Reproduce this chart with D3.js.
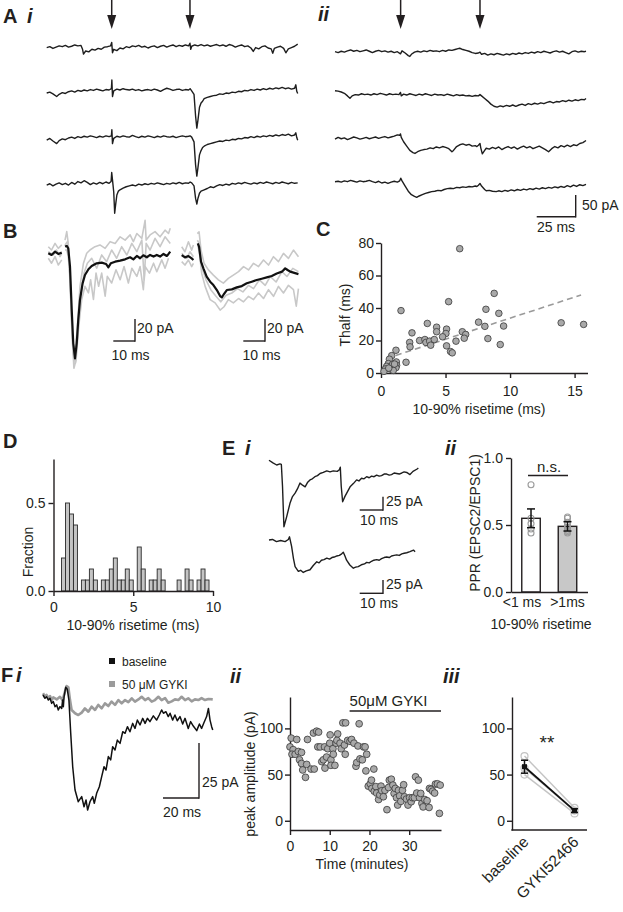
<!DOCTYPE html>
<html><head><meta charset="utf-8">
<script src="https://cdn.jsdelivr.net/npm/d3@7"></script>
<style>body{margin:0;background:#fff}</style>
</head><body>
<svg id="fig" width="623" height="912" xmlns="http://www.w3.org/2000/svg"></svg>
<script>
// ---------------- DATA ----------------
// Panel A: traces [ms, pA]
const stimAi = [41.7, 91.9];
const stimAii = [42.1, 93.0];
const traceAi1 = [[0,-2],[2,0],[4,-4],[6,-1],[8,2],[10,0],[12,3],[14,-1],[16,1],[18,4],[20,2],[22,3],[23,-6],[23.6,-17],[25,-10],[27,-12],[29,-6],[31,-8],[33,-4],[35,-6],[37,-1],[39,0],[41,2],[41.7,10],[42.2,-14],[43,-6],[45,-9],[47,-3],[49,-5],[51,0],[53,-2],[55,2],[57,0],[59,3],[61,-1],[63,1],[65,-3],[67,0],[69,2],[71,-2],[73,1],[75,3],[77,-1],[79,2],[81,4],[83,0],[85,3],[87,1],[89,4],[91,2],[91.9,8],[92.4,-6],[93,1],[95,4],[97,2],[99,5],[101,2],[103,4],[105,1],[107,3],[109,5],[111,2],[113,4],[115,1],[117,5],[119,3],[121,-1],[123,2],[125,4],[127,0],[129,2],[131,-3],[132.5,-11],[134,-2],[136,-5],[138,0],[140,2],[142,-3],[144,-5],[145,-15],[146,-4],[148,-1],[150,1],[152,-4],[153.4,-14],[155,-5],[157,-2],[159,1],[161,6]];
const traceAi2 = [[0,-7],[2,-5],[4,-9],[6.4,-15],[8,-10],[10,-6],[12,-8],[14,-4],[16,-2],[18,-5],[20,-1],[22,-3],[24,0],[26,-2],[28,1],[30,-1],[32,2],[34,0],[36,-2],[38,1],[40,0],[41.5,3],[41.8,23],[42.2,-15],[43,-2],[45,2],[47,0],[49,3],[51,1],[53,0],[55,2],[57,-1],[59,1],[61,-2],[63,0],[65,1],[67,-1],[69,2],[71,0],[73,-3],[75,1],[77,4],[79,2],[81,-1],[83,1],[85,2],[87,-1],[89,1],[91,0],[92,3],[93,-2],[94.5,-10],[95.5,-60],[96.3,-88],[97,-70],[98,-40],[99,-30],[100,-26],[101,-20],[103,-17],[105,-15],[107,-13],[109,-12],[111,-9],[113,-10],[115,-7],[117,-8],[119,-5],[121,-6],[123,-3],[125,-4],[127,-1],[129,-2],[131,1],[133,-1],[135,2],[137,0],[139,3],[141,1],[143,4],[145,2],[147,5],[149,3],[151,6],[153,3],[155,5],[157,2],[159,4],[159.8,12],[160.4,-3],[161,-8]];
const traceAi3 = [[0,-8],[2,-4],[4,-10],[6.4,-16],[8,-9],[10,-5],[12,-7],[14,-3],[16,-1],[18,-4],[20,0],[22,-2],[24,1],[26,-1],[28,2],[30,0],[32,-2],[34,1],[36,-1],[38,2],[40,0],[41.5,2],[41.8,16],[42.2,-16],[43,-4],[45,1],[47,-1],[49,2],[51,0],[53,-1],[55,3],[57,0],[59,-2],[61,1],[63,-1],[65,2],[67,0],[69,-2],[71,1],[73,-1],[75,2],[77,0],[79,-1],[81,1],[83,-2],[85,0],[87,2],[89,0],[91,1],[92,2],[93,-1],[94.5,-12],[95.5,-65],[96.3,-91],[97,-72],[98,-42],[99,-32],[100,-25],[101,-22],[103,-18],[105,-16],[107,-14],[109,-12],[111,-10],[113,-11],[115,-8],[117,-9],[119,-6],[121,-7],[123,-4],[125,-5],[127,-2],[129,-3],[131,0],[133,-2],[135,1],[137,-1],[139,2],[141,0],[143,3],[145,1],[147,4],[149,2],[151,5],[153,3],[155,6],[157,2],[159,4],[159.8,9],[160.4,-2],[161,-8]];
const traceAi4 = [[0,-4],[2,-1],[4,-6],[6,-2],[8,1],[10,-3],[12,0],[14,-4],[16,2],[18,-2],[20,4],[22,1],[24,6],[26,2],[28,-3],[30,1],[32,-2],[34,2],[36,-1],[38,3],[40,0],[41.3,4],[41.7,25],[42.2,8],[43,-20],[43.6,-69],[44.2,-50],[45,-27],[46,-18],[47,-15],[49,-11],[51,-8],[53,-6],[55,-4],[57,-6],[59,-2],[61,-4],[63,-1],[65,-3],[67,0],[69,-2],[71,1],[73,-1],[75,-3],[77,0],[79,-2],[81,1],[83,-1],[85,2],[87,-1],[89,1],[91,0],[92,3],[93,1],[94.5,-6],[95.5,-35],[96.3,-48],[97,-35],[98,-23],[99,-18],[101,-15],[103,-12],[105,-8],[107,-10],[109,-6],[111,-3],[113,-5],[115,-2],[117,-4],[119,0],[121,-2],[123,1],[125,-1],[127,2],[129,0],[131,-2],[133,1],[135,-1],[137,2],[139,0],[141,3],[143,1],[145,-1],[147,2],[149,0],[151,3],[153,1],[155,-1],[157,2],[159,0],[161,1]];
const traceAii1 = [[0,0],[2,-2],[4,1],[6,-1],[8,2],[10,4],[12,1],[14,3],[16,0],[18,2],[20,4],[22,1],[24,-2],[26,1],[28,3],[30,0],[32,2],[34,-1],[36,1],[38,-2],[40,0],[42,-5],[43,2],[45,-3],[47,-9],[48,-11],[49,-6],[51,-1],[53,1],[55,-1],[57,2],[59,0],[61,3],[63,1],[65,2],[67,0],[69,3],[71,1],[73,4],[75,3],[77,5],[79,7],[80,8],[82,5],[84,3],[86,1],[88,-2],[90,-4],[92,-3],[93,-1],[94,-6],[96,-4],[98,-8],[100,-5],[102,-7],[104,-4],[106,-6],[108,-8],[110,-5],[112,-7],[114,-4],[116,-6],[118,-3],[120,-5],[122,-2],[124,-4],[126,-1],[128,-3],[130,0],[132,-2],[134,1],[136,-1],[138,-3],[140,0],[142,2],[144,-1],[146,1],[148,-2],[150,-5],[152,0],[154,2],[156,-1],[158,1],[160,0],[161,1]];
const traceAii2 = [[0,6],[2,5],[4,3],[6,0],[8,-6],[9.6,-11.5],[11,-6],[13,-3],[15,-4],[17,-1],[19,-3],[21,-2],[23,-4],[25,-1],[27,-3],[29,0],[31,-2],[33,-4],[35,-1],[37,-3],[39,-2],[41,-3],[42,2],[42.5,-6],[44,-2],[46,-4],[48,-1],[50,-3],[52,-5],[54,-2],[56,-4],[58,-1],[60,-3],[62,-5],[64,-2],[66,-4],[68,-3],[70,-5],[72,-2],[74,-4],[76,-6],[78,-3],[80,-5],[82,-4],[84,-6],[86,-5],[88,-7],[90,-5],[92,-6],[93,-3],[94,-6],[96,-12],[98,-18],[100,-25],[102,-30],[104,-32],[106,-29],[108,-31],[110,-28],[112,-30],[114,-27],[116,-30],[118,-27],[120,-25],[122,-28],[124,-24],[126,-26],[128,-23],[130,-25],[132,-22],[134,-24],[136,-21],[138,-19],[140,-22],[142,-19],[144,-20],[146,-17],[148,-19],[150,-16],[152,-18],[154,-15],[156,-17],[158,-14],[160,-15],[161,-12]];
const traceAii3 = [[0,-2],[2,2],[4,-1],[6,1],[8,-3],[10,0],[12,3],[14,1],[16,-2],[18,0],[20,2],[22,-1],[24,1],[26,3],[28,0],[30,2],[32,4],[34,1],[36,3],[38,5],[40,8],[41.5,7],[42,10],[42.5,2],[44,-8],[46,-18],[48,-28],[50,-33],[51.3,-35],[53,-31],[55,-28],[57,-26],[59,-25],[61,-22],[63,-24],[65,-20],[67,-22],[69,-19],[71,-21],[73,-24],[75,-31],[76,-28],[78,-19],[80,-15],[82,-13],[84,-16],[86,-14],[88,-18],[90,-17],[91,-19],[92,-16],[93,-12],[93.5,-22],[94.5,-36],[96,-28],[97,-23],[99,-25],[101,-21],[103,-24],[105,-20],[107,-26],[109,-22],[111,-19],[113,-23],[115,-20],[117,-25],[119,-21],[121,-18],[123,-22],[125,-19],[127,-24],[129,-21],[131,-18],[133,-22],[135,-26],[137,-31],[139,-24],[141,-19],[143,-22],[145,-17],[147,-20],[149,-16],[151,-19],[153,-15],[155,-17],[157,-12],[159,-10],[161,-5]];
const traceAii4 = [[0,0],[2,1],[4,-1],[6,2],[8,0],[10,3],[12,1],[14,-1],[16,2],[18,0],[20,1],[22,3],[24,0],[26,-2],[28,1],[30,-3],[32,-1],[34,-4],[36,-1],[38,1],[40,-1],[41.5,2],[42.2,8],[43,2],[45,-10],[47,-22],[49,-30],[51,-34],[52.4,-36],[54,-33],[56,-30],[58,-27],[60,-25],[62,-23],[64,-22],[66,-20],[68,-21],[70,-18],[72,-16],[74,-15],[76,-16],[78,-13],[80,-14],[82,-12],[84,-13],[86,-11],[88,-12],[90,-10],[91,-11],[92,-8],[93,-4],[94,-10],[96,-18],[97,-21],[99,-20],[101,-22],[103.4,-23],[105,-21],[107,-23],[109,-20],[111,-22],[113,-19],[115,-21],[117,-18],[119,-20],[121,-17],[123,-19],[125,-16],[127,-18],[129,-15],[131,-17],[133,-14],[135,-16],[137,-13],[139,-15],[141,-12],[143,-14],[145,-11],[147,-13],[149,-9],[151,-12],[153,-8],[155,-11],[157,-7],[159,-9],[161,-6]];

// Panel B: averaged (black) and individual (gray) EPSCs [ms, pA]; null = gap
const bLeftMean = [[0,0],[1.5,-1.5],[3.1,1.5],[4.6,-0.6],[6.2,0.6],[6.9,null],[7.7,6.1],[8.5,6.7],[9.2,4.5],[10,-12.1],[10.8,-51.5],[11.5,-81.8],[12.3,-95.5],[13.1,-81.8],[13.8,-60.6],[14.6,-42.4],[15.8,-27.3],[16.9,-19.7],[18.5,-14.5],[20,-11.5],[22.3,-9.1],[24.6,-8.5],[26.6,-9.7],[27.7,-12.7],[28.8,-9.1],[30.8,-7.6],[33.1,-6.7],[35.4,-5.5],[37.7,-3.6],[39.2,-5.5],[40.8,-2.4],[42.3,-4.5],[43.8,-1.8],[45.4,-3.6],[46.9,-1.5],[48.5,-3],[50,-1.5],[51.5,-3],[53.1,-0.6],[54.6,-2.4],[55.4,-0.6],[56.2,1.5]];
const bLeftSingles = [
 [[0,6],[1.5,3],[3.1,9],[4.6,4.5],[6.2,7.6],[6.9,null],[7.7,12],[8.5,19.7],[9.2,9],[10,-27],[11.2,-79],[12.3,-91],[13.4,-67],[14.6,-30],[16.2,-9],[17.7,0],[19.2,3],[21.5,6],[23.8,7.6],[26.2,4.5],[28.5,10.6],[30.8,9],[33.1,15],[35.4,12],[37.7,16.7],[39.2,10.6],[40.8,18],[43.1,13.6],[44.6,30],[45.1,12],[46.9,16.7],[49.2,19.7],[51.5,15],[53.8,21],[55.4,18],[56.2,22.7]],
 [[0,-4.5],[1.5,-9],[3.1,-3],[4.6,-10.6],[6.2,-6],[6.9,null],[7.7,3],[8.5,3],[9.2,-3],[10,-21],[10.8,-67],[11.8,-104.5],[12.8,-97],[14,-67],[15.4,-42],[16.9,-30],[18.5,-36],[19.5,-24],[20.8,-42],[22,-18],[23.2,-30],[24.6,-18],[26.2,-39],[27.2,-21],[29.2,-27],[31.2,-15],[33.1,-24],[34.9,-12],[36.9,-27],[38.5,-13.6],[40.8,-21],[42.3,-12],[43.8,-33],[44.6,-12],[46.6,-18],[48.5,-9],[50,-16.7],[52.3,-6],[53.8,-13.6],[55.4,-4.5]],
 [[0,1.5],[2.3,-1.5],[3.8,3],[5.4,-3],[6.2,0],[6.9,null],[7.7,7.6],[8.8,10.6],[9.5,0],[10.3,-36],[11.4,-91],[12.5,-100],[13.5,-76],[14.9,-39],[16.5,-18],[18,-9],[20,-4.5],[22.3,-13.6],[24.6,-1.5],[26.9,-7.6],[29.2,3],[31.5,-4.5],[33.8,6],[36.2,-1.5],[38.5,9],[40.8,1.5],[43.1,12],[44.2,-24],[45.1,9],[46.9,3],[49.2,13.6],[51.5,6],[53.8,15],[56.2,9]]
];
const bRightMean = [[0,1.5],[1.5,-0.6],[3.1,0.6],[4.6,-1.5],[5.4,-3],[6.3,null],[7.4,12.1],[8,9.1],[8.9,-4.5],[10,-10.6],[11.5,-18.2],[13.1,-22.7],[14.6,-25.8],[16.2,-30.3],[17.7,-35.8],[18.5,-37],[19.2,-34.8],[20.8,-30.3],[23.1,-29.7],[25.4,-27.9],[27.7,-26.7],[30,-24.2],[32.3,-22.7],[34.6,-21.2],[36.9,-20],[39.2,-18.8],[41.5,-17.6],[43.8,-15.2],[46.2,-13.6],[47.7,-10.6],[48.8,-12.1],[50,-13.6],[51.5,-14.5],[53.8,-15.8]];
const bRightSingles = [
 [[0,9],[1.5,4.5],[3.1,13.6],[4.6,6],[5.4,10.6],[6.3,null],[7.2,21],[8,22.7],[8.9,6],[10.3,-6],[12.3,-12],[14.6,-16.7],[16.9,-21],[19.2,-24],[21.5,-19.7],[23.8,-16.7],[26.2,-13.6],[28.5,-9],[30.8,-12],[33.1,-6],[35.4,-9],[37.7,-3],[40,-7.6],[42.3,0],[44.6,-4.5],[46.9,3],[49.2,-1.5],[51.5,6],[53.8,0]],
 [[0,-4.5],[1.5,-7.6],[3.1,-3],[4.6,-9],[5.4,-6],[6.3,null],[7.4,10.6],[8.2,3],[9.2,-15],[10.8,-27],[13.1,-39],[15.4,-42],[17.7,-48.5],[19.5,-45.5],[21.5,-39],[23.8,-42],[26.2,-38],[28.5,-41],[30.8,-36],[33.1,-39],[35.4,-33],[37.7,-38],[40,-30],[42.3,-36],[44.6,-27],[46.9,-33],[49.2,-26],[51.5,-30],[52.8,-45],[53.8,-29]],
 [[0,3],[2.3,-1.5],[3.8,4.5],[5.4,0],[6.3,null],[7.2,15],[8.2,12],[9.2,-9],[11.2,-21],[13.4,-30],[15.8,-36],[18,-41],[20.5,-35],[23.1,-33],[25.7,-29],[28.2,-32],[30.8,-26],[33.1,-29],[35.8,-21],[38.5,-26],[40.8,-18],[43.5,-23],[46.2,-13.6],[48.5,-18],[51.2,-10.6],[53.8,-13.6]]
];

// Panel C: 10-90% risetime (ms) vs Thalf (ms)
const riseTimeC = [1.55,5.24,8.77,8.13,9.13,7.56,9.5,8.05,8.28,9.24,13.96,15.7,3.59,4.31,4.31,5.08,5.03,4.77,6.3,6.56,6.45,5.81,5.08,5.39,5.52,2.4,2.22,2.25,2.99,3.4,3.48,3.77,3.85,4.13,1.94,1.16,0.83,0.65,1.19,1.21,1.16,0.57,0.44,0.34,0.7,0.8,0.9,0.23,0.95,6.1,1.05,0.6];
const thalfC = [38.4,43.9,49,39.2,36.7,31.3,28.9,28.7,21.2,17.5,30.9,29.9,30.5,28.2,25.4,27,24.3,22.3,25.4,23.7,21.4,19.6,16.7,13.2,12.4,24.7,18.8,16.1,20,20.6,18.8,19.6,17.1,20.6,6.6,14,10.7,8.5,6.8,4.7,3.3,5.8,4.1,2.5,2.5,3.9,5.4,1,1.6,76.5,5.5,3];
const fitLineX = [1.15, 15.5];
const fitLineY = [10.8, 48];

// Panel D: histogram of 10-90% risetime
const binStart = [0.5,0.75,1,1.25,1.5,1.75,2,2.25,2.5,2.75,3,3.25,3.5,3.75,4,4.25,4.5,4.75,5,5.25,5.5,5.75,6,6.25,6.5,6.75,7,7.25,7.5,7.75,8,8.25,8.5,8.75,9,9.25,9.5];
const binFraction = [0.1875,0.5,0.4375,0.375,0,0.0625,0.0625,0.125,0.0625,0,0.0625,0.0625,0.125,0.1875,0.0625,0.0625,0.125,0.0625,0,0.25,0.125,0,0.0625,0.0625,0.125,0.0625,0,0,0,0.0625,0,0.125,0.0625,0,0.0625,0.125,0.0625];
const binWidth = 0.25;

// Panel E i: paired-pulse EPSCs [ms, pA]
const eFast = [[0,9],[1.7,4],[3.3,0],[4.7,2],[5.3,1],[5.8,-40],[6.4,-116],[7.6,-97],[9,-72],[10,-60],[11.2,-53],[12.2,-45],[13.3,-34],[14.4,-38],[15.5,-41],[16.5,-33],[17.6,-28],[18.6,-26],[19.7,-22],[20.8,-20],[21.9,-16],[23.3,-14],[24.8,-11],[26.2,-13],[27.6,-11],[29.3,-12],[30.2,-9],[30.6,-4],[31.0,-40],[31.6,-69],[32.6,-59],[33.7,-50],[34.8,-41],[36.2,-35],[37.6,-28],[38.6,-30],[39.7,-25],[40.8,-26],[41.9,-22],[43,-24],[44,-21],[45.1,-22],[46.2,-19],[47.3,-21],[48.3,-20],[49.4,-17],[50.5,-17],[51.6,-19],[52.6,-18],[53.7,-15],[54.8,-16],[55.9,-17],[57,-15],[58,-13],[59.1,-14],[60.5,-18],[61.8,-12],[63.4,-8],[64.1,-6]];
const eSlow = [[0,0],[1.5,1],[3.2,-3],[5,-1],[6.9,-3],[8.3,1],[8.8,6],[9.7,-12],[10.5,-35],[11.2,-50],[12.6,-59],[13.6,-57],[14.7,-61],[16,-58],[17.6,-56],[19,-48],[20.5,-41],[21.5,-43],[22.5,-38],[23.6,-37],[24.8,-34],[26,-36],[27,-33],[28,-32],[29.1,-30],[30.2,-29],[31.2,-26],[31.9,-23],[32.6,-30],[33.3,-38],[34.7,-47],[36.2,-53],[37.2,-51],[38.3,-50],[40,-46],[41,-45],[41.9,-42],[43,-43],[44,-40],[45,-38],[46.2,-37],[47.3,-38],[48.3,-35],[49.4,-33],[50.5,-32],[51.6,-33],[52.6,-30],[53.7,-29],[54.8,-28],[55.9,-29],[57,-26],[58,-25],[59.1,-24],[60.5,-22],[62,-19],[62.7,-22]];

// Panel E ii: PPR
const pprGroups = ["<1 ms", ">1ms"];
const pprMean = [0.55, 0.49];
const pprSem = [0.07, 0.035];
const pprFast = [0.80, 0.55, 0.51, 0.47, 0.44];
const pprSlow = [0.56, 0.55, 0.52, 0.50, 0.48, 0.46, 0.45, 0.44];

// Panel F i: example EPSCs [ms, pA]
const fBaseline = [[0,0],[1.1,-1.5],[2,-0.8],[3,-2.3],[3.9,-1.5],[4.8,-3.8],[5.7,-3],[6.7,-5.3],[7.6,-4.5],[8.5,-6.8],[9.4,-5.3],[10.4,-6.1],[10.9,-2.3],[11.3,-5.3],[11.7,-0.8],[12.6,3.5],[13.5,2.6],[14.4,-2.3],[15.4,-17.4],[16.5,-32.6],[17.8,-43.2],[19.6,-48.5],[21.5,-46.2],[22.8,-50.8],[23.9,-47.7],[24.8,-52.3],[26.1,-48.5],[27.6,-46.2],[28.5,-49.2],[29.8,-44.7],[31.3,-41.7],[32.6,-37.1],[33.9,-32.6],[35,-34.1],[36.3,-28],[37.6,-29.5],[38.7,-23.5],[40,-25],[41.3,-20.5],[42.8,-22],[44.3,-16.7],[45.6,-17.4],[46.9,-14.4],[48.3,-16.7],[49.8,-12.9],[51.1,-15.2],[52.4,-11.4],[53.9,-13.6],[55.4,-10.6],[56.7,-12.9],[58,-10.6],[59.4,-12.1],[61.3,-9.5],[63.1,-11.4],[64.6,-9.1],[65.9,-6.8],[66.9,-8.3],[68.3,-7.6],[69.6,-9.8],[70.6,-8.3],[72,-11.4],[73.3,-9.1],[74.6,-11.7],[76.1,-9.8],[77.6,-13.2],[78.9,-10.6],[80.7,-15.2],[82,-12.1],[83.5,-14.1],[85.4,-16.2],[86.9,-13.2],[88.1,-15.2],[89.4,-12.6],[90.9,-9.8],[91.9,-6.1],[92.8,-11.4],[93.7,-14.4],[94.3,-15.9]];
const fGYKI = [[0,0.8],[1.1,-0.8],[2,0],[3,-1.5],[3.9,-0.5],[4.8,-2.3],[5.7,-1.1],[7.6,-2],[9.4,-0.8],[10.9,-2.3],[12.2,1.5],[13.1,4.1],[14.1,3.5],[15,-2.3],[15.9,-6.8],[17.8,-8.3],[19.6,-9.1],[21.5,-8],[23.3,-6.1],[25.2,-7.6],[27,-5.3],[28.9,-6.8],[30.7,-4.5],[32.6,-6.1],[34.4,-3.8],[36.3,-5],[38.1,-3],[40,-4.5],[41.9,-2.3],[43.7,-3.8],[45.6,-2.3],[47.4,-3.2],[49.3,-1.5],[51.1,-3],[53,-2],[54.8,-0.8],[56.7,-2.3],[58.5,-1.4],[60.4,-3],[62.2,-2.3],[64.1,-0.8],[65.9,-2.3],[67.8,-1.4],[69.6,-3.5],[71.5,-2.9],[73.3,-2],[75.2,-2.3],[77,-0.8],[78.9,-2.3],[80.7,-1.5],[82.6,-2.9],[84.4,-2],[86.3,-2.3],[88.1,-1.4],[90,-2.3],[91.9,-1.8],[94.3,-2]];
const legendF = ["baseline", "50 \u03bcM GYKI"];

// Panel F ii: peak amplitude time course [minutes, pA]
const ampTimecourse = [[0,80],[0.3,89.5],[1.7,88],[0.8,77],[0.5,72],[1.3,72],[2.1,75],[2.9,74],[2.4,66],[2.9,62],[3.2,55],[3.9,47],[4.2,61],[4.4,88],[5.3,56],[6.1,56],[5.9,95],[6.7,97],[7.2,96],[7.0,80],[7.6,80],[8.0,64],[8.4,66],[8.7,80],[8.8,57],[9.2,69],[9.5,78],[10.0,84],[10.1,93],[10.3,66],[10.3,60],[10.8,78],[10.9,72],[11.3,60],[11.6,84],[12.0,94],[11.8,87],[12.6,84],[12.9,78],[13.3,106],[14.0,106],[13.7,82],[13.9,72],[14.5,87],[15.1,86],[15.5,88],[16.1,84],[16.6,59],[16.8,63],[17.1,81],[17.4,105],[17.6,67],[18.2,66],[18.5,80],[18.9,80],[19.3,72],[19.1,54],[19.7,37.5],[20.2,40],[20.5,44],[21.1,56],[20.6,35],[21.2,32],[21.6,37],[21.8,30],[22.3,23],[22.6,28],[22.9,37.5],[23.1,32.5],[23.5,26],[23.9,33],[24.4,12],[24.8,36],[25.0,44],[25.5,45],[25.9,38.6],[26.2,29.6],[26.5,35],[26.8,25],[27.1,17],[27.3,33],[27.6,27],[27.9,21],[28.3,33],[28.6,39],[28.8,26],[29.3,23.5],[29.7,17],[30.1,25],[30.5,20.6],[30.8,25],[31.3,25],[31.6,47.6],[31.9,30],[32.3,44],[32.6,25],[32.9,29.6],[33.2,18.8],[33.5,15],[33.9,23],[34.5,21.7],[35.0,14.4],[35.1,35],[35.5,34],[35.9,32],[36.4,30],[36.6,39.7],[37.1,40],[37.8,38.6],[37.6,8]];
const drugStart = 15, drugEnd = 38;

// Panel F iii: summary
const fSumGroups = ["baseline", "GYKI52466"];
const fSumCells = [[70, 14], [57, 11], [50, 8]];
const fSumMean = [58.5, 11];
const fSumSem = [7, 2];

// ---------------- DRAWING ----------------
const FONT = "'Liberation Sans', Arial, Helvetica, sans-serif";
const svg = d3.select("#fig");
svg.append("rect").attr("width",623).attr("height",912).attr("fill","#fff");

function text(x, y, s, o = {}) {
  const t = svg.append("text").attr("x", x).attr("y", y).text(s)
    .attr("font-family", FONT).attr("font-size", o.size || 14)
    .attr("fill", o.fill || "#231f20")
    .attr("text-anchor", o.anchor || "start");
  if (o.weight) t.attr("font-weight", o.weight);
  if (o.style) t.attr("font-style", o.style);
  if (o.rotate) t.attr("transform", `rotate(${o.rotate},${x},${y})`);
  return t;
}
function panelLabel(x, y, s, italic) {
  text(x, y, s, {size: 20, weight: "bold", style: italic ? "italic" : null});
}
function drawTrace(data, xs, ys, color, width) {
  svg.append("path").datum(data)
    .attr("d", d3.line().defined(d => d[1] !== null).x(d => xs(d[0])).y(d => ys(d[1])))
    .attr("fill", "none").attr("stroke", color).attr("stroke-width", width)
    .attr("stroke-linejoin", "round");
}
function line(x1, y1, x2, y2, color = "#231f20", w = 1.4) {
  svg.append("line").attr("x1", x1).attr("y1", y1).attr("x2", x2).attr("y2", y2)
    .attr("stroke", color).attr("stroke-width", w);
}
function scaleBar(xs, ys, xVal, yVal, xEnd, yBase) {
  const w = xs(xVal) - xs(0), h = Math.abs(ys(0) - ys(-yVal));
  line(xEnd - w, yBase, xEnd, yBase);
  line(xEnd, yBase + 0.7, xEnd, yBase - h);
}
function styleAxis(g) {
  g.attr("font-family", FONT).attr("font-size", 14);
  g.selectAll(".domain").attr("stroke", "#231f20").attr("stroke-width", 1.4);
  g.selectAll(".tick line").attr("stroke", "#231f20").attr("stroke-width", 1.4);
  g.selectAll(".tick text").attr("fill", "#231f20");
}

// ---- Panel A ----
panelLabel(3, 23, "A"); panelLabel(27, 23, "i", true);
panelLabel(318, 21, "ii", true);
const aX1 = d3.scaleLinear().domain([0, 161]).range([46.7, 297.7]);
const aX2 = d3.scaleLinear().domain([0, 161]).range([335, 586]);
const aBase1 = [46.7, 90, 136.7, 183.3];
const aBase2 = [51.7, 93.3, 138.3, 181.7];
const aPxPerPA = 0.433;
const aY = b => d3.scaleLinear().domain([0, -50]).range([b, b + 50 * aPxPerPA]);
[traceAi1, traceAi2, traceAi3, traceAi4].forEach((tr, i) => drawTrace(tr, aX1, aY(aBase1[i]), "#1e1e1e", 1.4));
[traceAii1, traceAii2, traceAii3, traceAii4].forEach((tr, i) => drawTrace(tr, aX2, aY(aBase2[i]), "#1e1e1e", 1.4));
function arrow(x) {
  line(x, 0, x, 17, "#231f20", 1.5);
  svg.append("path").attr("d", `M${x-4.5},15 L${x+4.5},15 L${x},29 Z`).attr("fill", "#231f20");
}
stimAi.forEach(t => arrow(aX1(t)));
stimAii.forEach(t => arrow(aX2(t)));
scaleBar(aX2, aY(0), 25, 50, 575.7, 216.7);
text(582, 209.5, "50 pA");
text(537, 232, "25 ms");

// ---- Panel B ----
panelLabel(3, 238, "B");
const bX1 = d3.scaleLinear().domain([0, 10]).range([48.3, 70]);
const bX2 = d3.scaleLinear().domain([0, 10]).range([181.7, 203.4]);
const bY1 = d3.scaleLinear().domain([0, -20]).range([253.3, 275.3]);
const bY2 = d3.scaleLinear().domain([0, -20]).range([256.7, 278.7]);
bLeftSingles.forEach(tr => drawTrace(tr, bX1, bY1, "#c8c8c8", 1.6));
bRightSingles.forEach(tr => drawTrace(tr, bX2, bY2, "#c8c8c8", 1.6));
drawTrace(bLeftMean, bX1, bY1, "#111", 2.2);
drawTrace(bRightMean, bX2, bY2, "#111", 2.2);
scaleBar(bX1, bY1, 10, 20, 135, 341);
scaleBar(bX2, bY2, 10, 20, 265, 341);
text(137, 333, "20 pA"); text(111.5, 360, "10 ms");
text(267, 333, "20 pA"); text(242.5, 360, "10 ms");

// ---- Panel C ----
panelLabel(316, 236, "C");
const cX = d3.scaleLinear().domain([0, 16]).range([381, 587.5]);
const cY = d3.scaleLinear().domain([0, 80]).range([373, 243]);
const gcx = svg.append("g").attr("transform", "translate(0,373)")
  .call(d3.axisBottom(cX).tickValues([0, 5, 10, 15]).tickSize(5).tickSizeOuter(0).tickPadding(8));
styleAxis(gcx);
const gcy = svg.append("g").attr("transform", "translate(381,0)")
  .call(d3.axisLeft(cY).tickValues([0, 20, 40, 60, 80]).tickSize(5).tickSizeOuter(0).tickPadding(2));
styleAxis(gcy);
svg.append("line").attr("x1", cX(fitLineX[0])).attr("y1", cY(fitLineY[0]))
  .attr("x2", cX(fitLineX[1])).attr("y2", cY(fitLineY[1]))
  .attr("stroke", "#9a9a9a").attr("stroke-width", 1.6).attr("stroke-dasharray", "6,4");
svg.append("g").selectAll("circle").data(riseTimeC.map((r, i) => [r, thalfC[i]])).join("circle")
  .attr("cx", d => cX(d[0])).attr("cy", d => cY(d[1])).attr("r", 3.3)
  .attr("fill", "#a9a9a9").attr("stroke", "#3a3a3a").attr("stroke-width", 0.8);
text(479, 414, "10-90% risetime (ms)", {anchor: "middle"});
text(350, 315, "Thalf (ms)", {anchor: "middle", rotate: -90});

// ---- Panel D ----
panelLabel(3, 448, "D");
const dX = d3.scaleLinear().domain([0, 10]).range([53.5, 213]);
const dY = d3.scaleLinear().domain([0, 0.75]).range([591, 459]);
svg.append("g").selectAll("rect").data(binStart.map((s, i) => [s, binFraction[i]]).filter(d => d[1] > 0)).join("rect")
  .attr("x", d => dX(d[0])).attr("width", d => dX(d[0] + binWidth) - dX(d[0]))
  .attr("y", d => dY(d[1])).attr("height", d => dY(0) - dY(d[1]))
  .attr("fill", "#c4c4c4").attr("stroke", "#2a2a2a").attr("stroke-width", 0.9);
const gdx = svg.append("g").attr("transform", "translate(0,591)")
  .call(d3.axisBottom(dX).tickValues([0, 5, 10]).tickSize(5).tickSizeOuter(0).tickPadding(6));
styleAxis(gdx);
const gdy = svg.append("g").attr("transform", "translate(53.5,0)")
  .call(d3.axisLeft(dY).tickValues([0, 0.5]).tickFormat(d3.format(".1f")).tickSize(5).tickSizeOuter(0).tickPadding(3));
styleAxis(gdy);
text(133, 630, "10-90% risetime (ms)", {anchor: "middle"});
text(33, 552, "Fraction", {anchor: "middle", rotate: -90});

// ---- Panel E i ----
panelLabel(222, 455, "E"); panelLabel(245, 455, "i", true);
const eX = d3.scaleLinear().domain([0, 10]).range([269, 292.3]);
const eY1 = d3.scaleLinear().domain([0, -25]).range([465, 478.3]);
const eY2 = d3.scaleLinear().domain([0, -25]).range([540, 553.3]);
drawTrace(eFast, eX, eY1, "#1e1e1e", 1.4);
drawTrace(eSlow, eX, eY2, "#1e1e1e", 1.4);
scaleBar(eX, eY1, 10, 25, 383, 510);
scaleBar(eX, eY2, 10, 25, 383, 593.3);
text(386, 506, "25 pA"); text(360, 525, "10 ms");
text(386, 589, "25 pA"); text(360, 608, "10 ms");

// ---- Panel E ii ----
panelLabel(445, 455, "ii", true);
const pX = d3.scaleBand().domain(pprGroups).range([511, 587.5]).paddingInner(0.493).paddingOuter(0.295);
const pY = d3.scaleLinear().domain([0, 1]).range([592, 458]);
svg.append("g").selectAll("rect").data(pprGroups).join("rect")
  .attr("x", d => pX(d)).attr("width", pX.bandwidth())
  .attr("y", (d, i) => pY(pprMean[i])).attr("height", (d, i) => pY(0) - pY(pprMean[i]))
  .attr("fill", (d, i) => i === 0 ? "#fff" : "#c8c8c8").attr("stroke", "#231f20").attr("stroke-width", 1.4);
[pprFast, pprSlow].forEach((vals, gi) => {
  const cx = pX(pprGroups[gi]) + pX.bandwidth() / 2;
  svg.append("g").selectAll("circle").data(vals).join("circle")
    .attr("cx", cx).attr("cy", d => pY(d)).attr("r", 3)
    .attr("fill", "none").attr("stroke", "#9a9a9a").attr("stroke-width", 1.1);
});
pprGroups.forEach((g, i) => {
  const cx = pX(g) + pX.bandwidth() / 2;
  const y1 = pY(pprMean[i] + pprSem[i]), y2 = pY(pprMean[i] - pprSem[i]);
  line(cx, y1, cx, y2, "#111", 1.5);
  line(cx - 4, y1, cx + 4, y1, "#111", 1.5);
  line(cx - 4, y2, cx + 4, y2, "#111", 1.5);
});
const gpx = svg.append("g").attr("transform", "translate(0,592)")
  .call(d3.axisBottom(pX).tickSize(0).tickSizeOuter(0).tickPadding(5));
styleAxis(gpx);
gpx.selectAll(".tick text").attr("dx", (d, i) => i === 0 ? -9 : 0);
const gpy = svg.append("g").attr("transform", "translate(511,0)")
  .call(d3.axisLeft(pY).tickValues([0, 0.5, 1]).tickFormat(d3.format(".1f")).tickSize(5).tickSizeOuter(0).tickPadding(3));
styleAxis(gpy);
text(549, 472, "n.s.", {anchor: "middle", size: 15});
line(528, 475.5, 568, 475.5, "#231f20", 1.3);
text(480, 523, "PPR (EPSC2/EPSC1)", {anchor: "middle", rotate: -90});
text(541, 629, "10-90% risetime", {anchor: "middle"});

// ---- Panel F i ----
panelLabel(1, 682, "F"); panelLabel(16, 682, "i", true);
const fX = d3.scaleLinear().domain([0, 10]).range([43, 61]);
const fY = d3.scaleLinear().domain([0, -25]).range([695, 750]);
drawTrace(fGYKI, fX, fY, "#9b9b9b", 2.6);
drawTrace(fBaseline, fX, fY, "#111", 1.5);
scaleBar(fX, fY, 20, 25, 199, 798);
text(202, 787, "25 pA"); text(163, 817, "20 ms");
const legColors = ["#111", "#9b9b9b"];
legendF.forEach((s, i) => {
  svg.append("rect").attr("x", 109).attr("y", 658 + i * 23).attr("width", 6).attr("height", 6).attr("fill", legColors[i]);
  text(122, 666 + i * 23, s, {size: 12});
});

// ---- Panel F ii ----
panelLabel(230, 683, "ii", true);
const tX = d3.scaleLinear().domain([0, 38]).range([290, 441]);
const aAmpY = d3.scaleLinear().domain([-10, 134]).range([830, 697]);
const gtx = svg.append("g").attr("transform", "translate(0,830)")
  .call(d3.axisBottom(tX).tickValues([0, 10, 20, 30]).tickSize(5).tickSizeOuter(0).tickPadding(6));
styleAxis(gtx);
const gty = svg.append("g").attr("transform", "translate(290,0)")
  .call(d3.axisLeft(aAmpY).tickValues([0, 50, 100]).tickSize(5).tickSizeOuter(0).tickPadding(2));
styleAxis(gty);
svg.append("g").selectAll("circle").data(ampTimecourse).join("circle")
  .attr("cx", d => tX(d[0])).attr("cy", d => aAmpY(d[1])).attr("r", 3.4)
  .attr("fill", "#a9a9a9").attr("stroke", "#3a3a3a").attr("stroke-width", 0.8);
line(tX(drugStart), 711, tX(drugEnd), 711, "#231f20", 1.4);
text(tX(drugStart), 706, "50\u03bcM GYKI", {size: 15});
text(362, 869, "Time (minutes)", {anchor: "middle"});
text(255, 774, "peak amplitude (pA)", {anchor: "middle", rotate: -90});

// ---- Panel F iii ----
panelLabel(443, 683, "iii", true);
const sX = d3.scalePoint().domain(fSumGroups).range([512, 587]).padding(0.25);
const gsy = svg.append("g").attr("transform", "translate(512,0)")
  .call(d3.axisLeft(aAmpY).tickValues([0, 50, 100]).tickSize(5).tickSizeOuter(0).tickPadding(2));
styleAxis(gsy);
line(511.3, 830, 587, 830, "#231f20", 1.4);
fSumCells.forEach(c => {
  svg.append("path").datum(c.map((v, i) => [fSumGroups[i], v]))
    .attr("d", d3.line().x(d => sX(d[0])).y(d => aAmpY(d[1])))
    .attr("fill", "none").attr("stroke", "#c4c4c4").attr("stroke-width", 1.4);
  c.forEach((v, i) => svg.append("circle").attr("cx", sX(fSumGroups[i])).attr("cy", aAmpY(v)).attr("r", 3.5)
    .attr("fill", "#fff").attr("fill-opacity", 0).attr("stroke", "#c4c4c4").attr("stroke-width", 1.2));
});
svg.append("path").datum(fSumMean.map((v, i) => [fSumGroups[i], v]))
  .attr("d", d3.line().x(d => sX(d[0])).y(d => aAmpY(d[1])))
  .attr("fill", "none").attr("stroke", "#111").attr("stroke-width", 1.8);
fSumGroups.forEach((g, i) => {
  const cx = sX(g), y1 = aAmpY(fSumMean[i] + fSumSem[i]), y2 = aAmpY(fSumMean[i] - fSumSem[i]);
  line(cx, y1, cx, y2, "#111", 1.5);
  line(cx - 3.5, y1, cx + 3.5, y1, "#111", 1.5);
  line(cx - 3.5, y2, cx + 3.5, y2, "#111", 1.5);
  svg.append("rect").attr("x", cx - 2.5).attr("y", aAmpY(fSumMean[i]) - 2.5).attr("width", 5).attr("height", 5).attr("fill", "#111");
});
text(547, 749, "**", {anchor: "middle", size: 19});
fSumGroups.forEach(g => {
  text(sX(g) + 5, 843, g, {anchor: "end", rotate: -45, size: 15.5});
});
</script>
</body></html>
